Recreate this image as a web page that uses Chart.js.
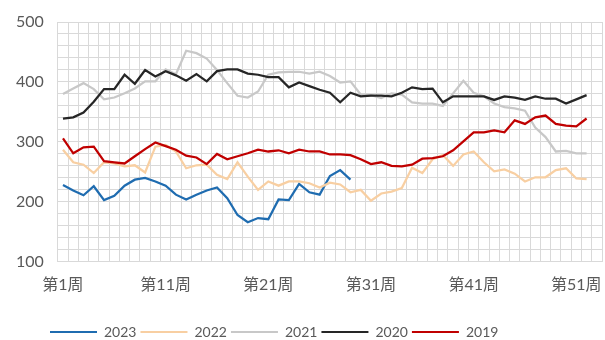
<!DOCTYPE html>
<html>
<head>
<meta charset="utf-8">
<script src="https://cdn.jsdelivr.net/npm/chart.js@4/dist/chart.umd.min.js"></script>
<style>
  html, body { margin: 0; padding: 0; background: #fff; }
  #wrap { width: 605px; height: 340px; }
</style>
</head>
<body>
<div id="wrap"><canvas id="chart" width="605" height="340"></canvas></div>
<script>
// 周度数据：横轴留到第53周，数据只到第52周
const weeks = Array.from({ length: 53 }, (_, i) => `第${i + 1}周`);
const yTicks = [100, 200, 300, 400, 500];

const s2023 = [228, 219, 211, 226, 203, 210, 227, 237, 240, 234, 227, 212, 204, 212, 219, 224, 206, 178, 166, 173,
  171, 204, 203, 230, 216, 212, 243, 253, 237];
const s2022 = [287, 266, 262, 248, 266, 264, 259, 261, 249, 292, 295, 284, 256, 261, 262, 245, 238, 266, 242, 220,
  234, 227, 234, 234, 231, 224, 232, 229, 216, 220, 202, 214, 217, 223, 257, 248, 271, 278, 260, 279,
  284, 266, 251, 254, 247, 234, 241, 241, 253, 256, 239, 238];
const s2021 = [380, 389, 398, 388, 371, 374, 381, 389, 401, 401, 421, 413, 452, 448, 439, 420, 398, 377, 374, 384,
  412, 416, 417, 417, 414, 417, 410, 399, 401, 379, 378, 373, 381, 379, 366, 364, 364, 360, 381, 402,
  382, 376, 364, 358, 356, 352, 324, 308, 284, 285, 281, 281];
const s2020 = [339, 341, 349, 367, 388, 388, 412, 397, 420, 409, 418, 411, 402, 413, 401, 418, 421, 421, 414, 412,
  408, 408, 391, 399, 393, 387, 382, 366, 382, 376, 377, 377, 376, 382, 391, 388, 389, 366, 376, 376,
  376, 376, 370, 376, 374, 370, 376, 372, 372, 364, 371, 378];
const s2019 = [306, 281, 291, 292, 268, 266, 264, 276, 288, 299, 293, 287, 277, 274, 263, 280, 271, 276, 281, 287,
  284, 286, 281, 287, 284, 284, 279, 279, 278, 271, 263, 266, 260, 259, 262, 272, 273, 276, 286, 301,
  316, 316, 319, 316, 336, 330, 341, 344, 330, 327, 326, 339];

const TEXT = '#595959';
const GRID = '#d9d9d9';
const FONT = 'Lato, "Noto Sans CJK SC", sans-serif';

function line(label, data, color) {
  return {
    label, data,
    borderColor: color,
    backgroundColor: color,
    borderWidth: 2.25,
    pointRadius: 0,
    tension: 0,
    fill: false,
  };
}

// 2019 放在最前面，这样它画在最上层；图例再倒过来排
const datasets = [
  line('2019', s2019, '#c00000'),
  line('2020', s2020, '#262626'),
  line('2021', s2021, '#c8c8c8'),
  line('2022', s2022, '#f8cfa2'),
  line('2023', s2023, '#1f6cb0'),
];

// 图例在布局里只占 1px，布局算完后再挪到左下固定位置
const legendPlace = {
  id: 'legendPlace',
  afterLayout(chart) {
    const lg = chart.legend;
    lg.left = 46;
    lg.right = 605;
    lg.top = 321;
    lg.bottom = 340;
  },
};

new Chart(document.getElementById('chart'), {
  type: 'line',
  data: { labels: weeks, datasets },
  plugins: [legendPlace],
  options: {
    responsive: false,
    animation: false,
    layout: { padding: { left: 16, right: 3, top: 22, bottom: 45 } },
    scales: {
      x: {
        offset: true,
        // 刻度线透明，只用来留出标签和网格之间的空隙
        grid: { color: GRID, tickColor: 'rgba(0,0,0,0)', tickLength: 13, offset: true },
        border: { color: GRID },
        ticks: {
          autoSkip: false,
          maxRotation: 0,
          padding: 0,
          color: TEXT,
          font: { family: FONT, size: 16 },
          callback: (v, i) => (i % 10 === 0 ? weeks[i] : ''),
        },
      },
      y: {
        min: 100,
        max: 500,
        grid: { color: GRID, tickColor: 'rgba(0,0,0,0)', tickLength: 14 },
        border: { color: GRID },
        ticks: {
          stepSize: 20,
          autoSkip: false,
          padding: 0,
          color: TEXT,
          font: { family: FONT, size: 16 },
          callback: v => (yTicks.includes(v) ? v : ''),
        },
      },
    },
    plugins: {
      tooltip: { enabled: false },
      legend: {
        position: 'bottom',
        align: 'start',
        maxHeight: 1,
        labels: {
          boxWidth: 47,
          boxHeight: 2,
          padding: 4,
          color: TEXT,
          font: { family: FONT, size: 14 },
          sort: (a, b) => b.datasetIndex - a.datasetIndex,
          generateLabels: c =>
            Chart.defaults.plugins.legend.labels.generateLabels(c).map(it => ({ ...it, lineWidth: 0 })),
        },
      },
    },
  },
});
</script>
</body>
</html>
